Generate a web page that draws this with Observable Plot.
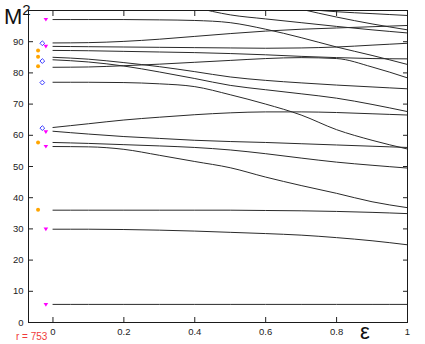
<!DOCTYPE html>
<html><head><meta charset="utf-8">
<script src="https://cdn.jsdelivr.net/npm/d3@7"></script>
<script src="https://cdn.jsdelivr.net/npm/@observablehq/plot@0.6"></script>
<style>
body{margin:0;background:#fff}
#chart{position:relative;width:425px;height:344px}
</style>
</head><body><div id="chart"></div>
<script>
// ---- data ----
const eps = [0, 0.1, 0.2, 0.3, 0.4, 0.5, 0.6, 0.7, 0.8, 0.9, 1.0];
const epsFrom04 = [0.4, 0.5, 0.6, 0.7, 0.8, 0.9, 1.0];
const epsFrom07 = [0.7, 0.8, 0.9, 1.0];

const s97 = [97.1, 97.1, 97.1, 97.0, 96.8, 96.1, 94.0, 91.3, 88.3, 85.6, 82.7];
const s90 = [89.6, 89.7, 90.1, 90.8, 91.7, 92.6, 93.4, 94.0, 94.4, 94.8, 95.2];
const s88 = [88.5, 88.4, 88.3, 88.2, 88.1, 88.0, 87.9, 88.0, 88.3, 88.9, 89.5];
const s87 = [87.2, 87.1, 86.9, 86.7, 86.5, 86.2, 85.8, 85.3, 84.9, 84.6, 84.5];
const s85 = [85.0, 84.4, 83.3, 82.0, 80.4, 78.7, 77.6, 76.8, 76.1, 75.5, 74.9];
const s84 = [84.2, 83.5, 82.2, 80.3, 78.2, 76.0, 74.6, 73.3, 71.9, 69.9, 67.6];
const s82 = [81.8, 81.9, 82.3, 82.8, 83.4, 84.0, 84.6, 84.9, 84.6, 81.9, 78.4];
const s77 = [77.0, 77.0, 76.9, 76.5, 75.6, 73.0, 70.0, 66.5, 61.8, 58.4, 55.6];
const s62 = [62.5, 63.7, 64.9, 65.8, 66.6, 67.2, 67.5, 67.5, 67.3, 66.9, 66.5];
const s61 = [61.3, 60.4, 59.6, 59.0, 58.4, 58.0, 57.7, 57.3, 56.9, 56.5, 56.1];
const s58 = [57.7, 57.4, 57.0, 56.6, 56.1, 55.3, 54.1, 52.7, 51.4, 50.4, 49.5];
const s56 = [56.4, 56.3, 55.5, 53.6, 51.6, 49.6, 46.6, 43.9, 41.4, 38.7, 36.8];
const s36 = [36.0, 36.0, 36.0, 36.0, 36.0, 36.0, 35.9, 35.8, 35.6, 35.3, 34.9];
const s30 = [29.9, 29.9, 29.8, 29.6, 29.3, 28.9, 28.5, 28.0, 27.2, 26.2, 24.9];
const s6  = [5.8, 5.8, 5.8, 5.8, 5.8, 5.8, 5.8, 5.8, 5.8, 5.8, 5.8];
const t1  = [101.0, 98.6, 97.3, 96.1, 94.9, 93.8, 92.8];   // enters from above
const t2  = [100.4, 97.9, 95.7, 93.8];
const t3  = [100.5, 99.6, 99.0, 98.4];

const orangeEps = -0.042, orangeM2 = [87.2, 85.2, 82.1, 57.7, 36.1];
const blueEps = -0.030, blueM2 = [89.5, 83.8, 76.9, 62.3];
const magentaEps = -0.020, magentaM2 = [97.1, 88.5, 61.1, 56.4, 29.9, 5.7];

const xTicks = [0, 0.2, 0.4, 0.6, 0.8, 1];
const xTickLabels = ["0", "0.2", "0.4", "0.6", "0.8", "1"];
const yTicks = [0, 10, 20, 30, 40, 50, 60, 70, 80, 90];
const yTickLabels = ["0", "10", "20", "30", "40", "50", "60", "70", "80", "90"];

// ---- build table ----
const seriesList = [
  ["s97", eps, s97], ["s90", eps, s90], ["s88", eps, s88], ["s87", eps, s87],
  ["s85", eps, s85], ["s84", eps, s84], ["s82", eps, s82], ["s77", eps, s77],
  ["s62", eps, s62], ["s61", eps, s61], ["s58", eps, s58], ["s56", eps, s56],
  ["s36", eps, s36], ["s30", eps, s30], ["s6", eps, s6],
  ["t1", epsFrom04, t1], ["t2", epsFrom07, t2], ["t3", epsFrom07, t3]
];
const table = seriesList.flatMap(([name, xs, ys]) => ys.map((v, i) => ({series: name, eps: xs[i], m2: v})));
const pts = (e, arr) => arr.map(v => ({eps: e, m2: v}));

const triDown = {draw(ctx, size) {
  const s = Math.sqrt(size / Math.PI) * 1.15;
  ctx.moveTo(-s, -s * 0.7); ctx.lineTo(s, -s * 0.7); ctx.lineTo(0, s * 0.9); ctx.closePath();
}};
const diamond = {draw(ctx, size) {
  const s = Math.sqrt(size / Math.PI);
  ctx.moveTo(0, -s); ctx.lineTo(s, 0); ctx.lineTo(0, s); ctx.lineTo(-s, 0); ctx.closePath();
}};

const font = "'Liberation Sans', Arial, sans-serif";
const chart = Plot.plot({
  width: 425, height: 344,
  marginLeft: 28, marginRight: 18, marginTop: 10, marginBottom: 22,
  x: {domain: [-0.069, 1.0]},
  y: {domain: [0, 100]},
  style: {fontFamily: font, fontSize: "9.5px", color: "#222", background: "#fff"},
  marks: [
    Plot.axisX(xTicks, {anchor: "bottom", tickSize: -5, fill: "none", label: null}),
    Plot.axisX(xTicks, {anchor: "top", tickSize: -5, fill: "none", label: null}),
    Plot.axisY(yTicks, {anchor: "left", tickSize: -5, fill: "none", label: null}),
    Plot.axisY(yTicks, {anchor: "right", tickSize: -5, fill: "none", label: null}),
    Plot.axisX(xTicks, {anchor: "bottom", tickSize: 0, tickPadding: 6, label: null, tickFormat: (d, i) => xTickLabels[i]}),
    Plot.axisY(yTicks, {anchor: "left", tickSize: 0, tickPadding: 5, label: null, tickFormat: (d, i) => yTickLabels[i]}),
    Plot.line(table, {x: "eps", y: "m2", z: "series", stroke: "#2a2a2a", strokeWidth: 1, curve: "monotone-x", clip: true}),
    Plot.dot(pts(orangeEps, orangeM2), {x: "eps", y: "m2", r: 2, fill: "#ffa500", stroke: "none"}),
    Plot.dot(pts(blueEps, blueM2), {x: "eps", y: "m2", r: 2.4, symbol: diamond, fill: "none", stroke: "#3c3cff", strokeWidth: 1}),
    Plot.dot(pts(magentaEps, magentaM2), {x: "eps", y: "m2", r: 2, symbol: triDown, fill: "#ff00ff", stroke: "none"}),
    Plot.frame({stroke: "#1a1a1a"})
  ]
});
document.getElementById("chart").appendChild(chart);

const svg = d3.select(chart);
const M = svg.append("text").attr("x", 4).attr("y", 23.5).attr("text-anchor", "start")
  .attr("font-family", font).attr("font-size", 22).attr("fill", "#111");
M.append("tspan").text("M");
M.append("tspan").attr("font-size", 15).attr("dy", -8.5).text("2");
svg.append("text").attr("x", 365).attr("y", 339).attr("text-anchor", "middle")
  .attr("font-family", font).attr("font-size", 22).attr("fill", "#111").text("ε");
svg.append("text").attr("x", 16).attr("y", 340).attr("text-anchor", "start")
  .attr("font-family", font).attr("font-size", 10).attr("fill", "#f03a3a").text("r = 753");
</script>
</body></html>
